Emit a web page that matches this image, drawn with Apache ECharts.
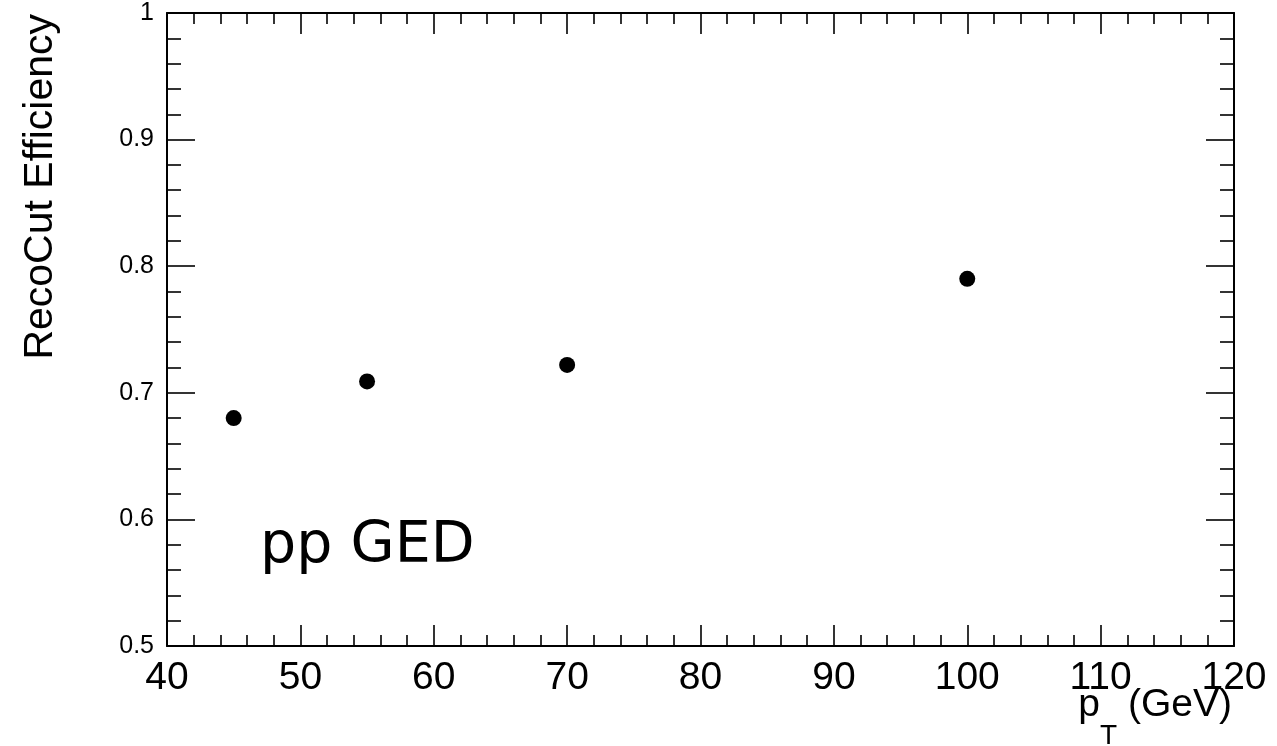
<!DOCTYPE html>
<html>
<head>
<meta charset="utf-8">
<script src="https://cdn.jsdelivr.net/npm/echarts@6/dist/echarts.min.js"></script>
<style>html,body{margin:0;padding:0;background:#fff;}#c{width:1277px;height:746px;}</style>
</head>
<body>
<div id="c"></div>
<script>
const ptValues = [45, 55, 70, 100];
const effValues = [0.680, 0.709, 0.722, 0.790];
const xTickLabels = ['40', '50', '60', '70', '80', '90', '100', '110', '120'];
const yTickLabels = ['0.5', '0.6', '0.7', '0.8', '0.9', '1'];
const xAxisTitleMain = 'p';
const xAxisTitleSub = 'T';
const xAxisTitleUnit = ' (GeV)';
const yAxisTitle = 'RecoCut Efficiency';
const annotation = 'pp GED';

const chart = echarts.init(document.getElementById('c'));
const FONT = '"Liberation Sans", Arial, Helvetica, sans-serif';
const lineStyle = { color: '#000', width: 2 };
const tickStyle = { color: '#000', width: 1.6 };

function xAx(pos, showLabels) {
  return {
    type: 'value', position: pos, min: 40, max: 120, interval: 10,
    axisLine: { show: true, onZero: false, lineStyle: lineStyle },
    axisTick: { show: true, inside: true, length: 21, lineStyle: tickStyle },
    minorTick: { show: true, splitNumber: 5, length: 11, lineStyle: tickStyle },
    splitLine: { show: false },
    axisLabel: {
      show: showLabels, color: '#000', fontFamily: FONT, fontSize: 39, margin: 13,
      formatter: function (v) { const i = Math.round((v - 40) / 10); return xTickLabels[i]; }
    }
  };
}
function yAx(pos, showLabels) {
  return {
    type: 'value', position: pos, min: 0.5, max: 1, interval: 0.1,
    axisLine: { show: true, onZero: false, lineStyle: lineStyle },
    axisTick: { show: true, inside: true, length: 28, lineStyle: tickStyle },
    minorTick: { show: true, splitNumber: 5, length: 14, lineStyle: tickStyle },
    splitLine: { show: false },
    axisLabel: {
      show: showLabels, color: '#000', fontFamily: FONT, fontSize: 25, margin: 13,
      formatter: function (v) { const i = Math.round((v - 0.5) / 0.1); return yTickLabels[i]; }
    }
  };
}

const yMain = yAx('left', true);
yMain.name = yAxisTitle;
yMain.nameLocation = 'end';
yMain.nameGap = -1;
yMain.nameRotate = 90;
yMain.nameTextStyle = {
  align: 'right', verticalAlign: 'bottom', fontFamily: FONT, fontSize: 41, color: '#000',
  padding: [0, 0, 106, 0]
};

chart.setOption({
  animation: false,
  backgroundColor: '#fff',
  grid: { left: 167, right: 43, top: 13, bottom: 100, containLabel: false, outerBoundsMode: 'none' },
  xAxis: [xAx('bottom', true), xAx('top', false)],
  yAxis: [yMain, yAx('right', false)],
  title: [{
    text: annotation, left: 255, top: 514,
    textStyle: { fontFamily: '"DejaVu Sans", "Open Sans", sans-serif', fontSize: 57, fontWeight: 'normal', color: '#000' }
  }, {
    text: '{a|' + xAxisTitleMain + '}{s|' + xAxisTitleSub + '}{a|' + xAxisTitleUnit + '}',
    right: 45, top: 686, padding: 0,
    textStyle: {
      fontWeight: 'normal',
      rich: {
        a: { fontFamily: FONT, fontSize: 39, fontWeight: 'normal', color: '#000', lineHeight: 46, verticalAlign: 'top' },
        s: { fontFamily: FONT, fontSize: 28, fontWeight: 'normal', color: '#000', lineHeight: 28, padding: [36, 0, 0, 0], verticalAlign: 'top' }
      }
    }
  }],
  series: [{
    type: 'scatter', xAxisIndex: 0, yAxisIndex: 0,
    symbol: 'circle', symbolSize: 16,
    itemStyle: { color: '#000', opacity: 1 },
    data: ptValues.map(function (x, i) { return [x, effValues[i]]; })
  }]
});
</script>
</body>
</html>
